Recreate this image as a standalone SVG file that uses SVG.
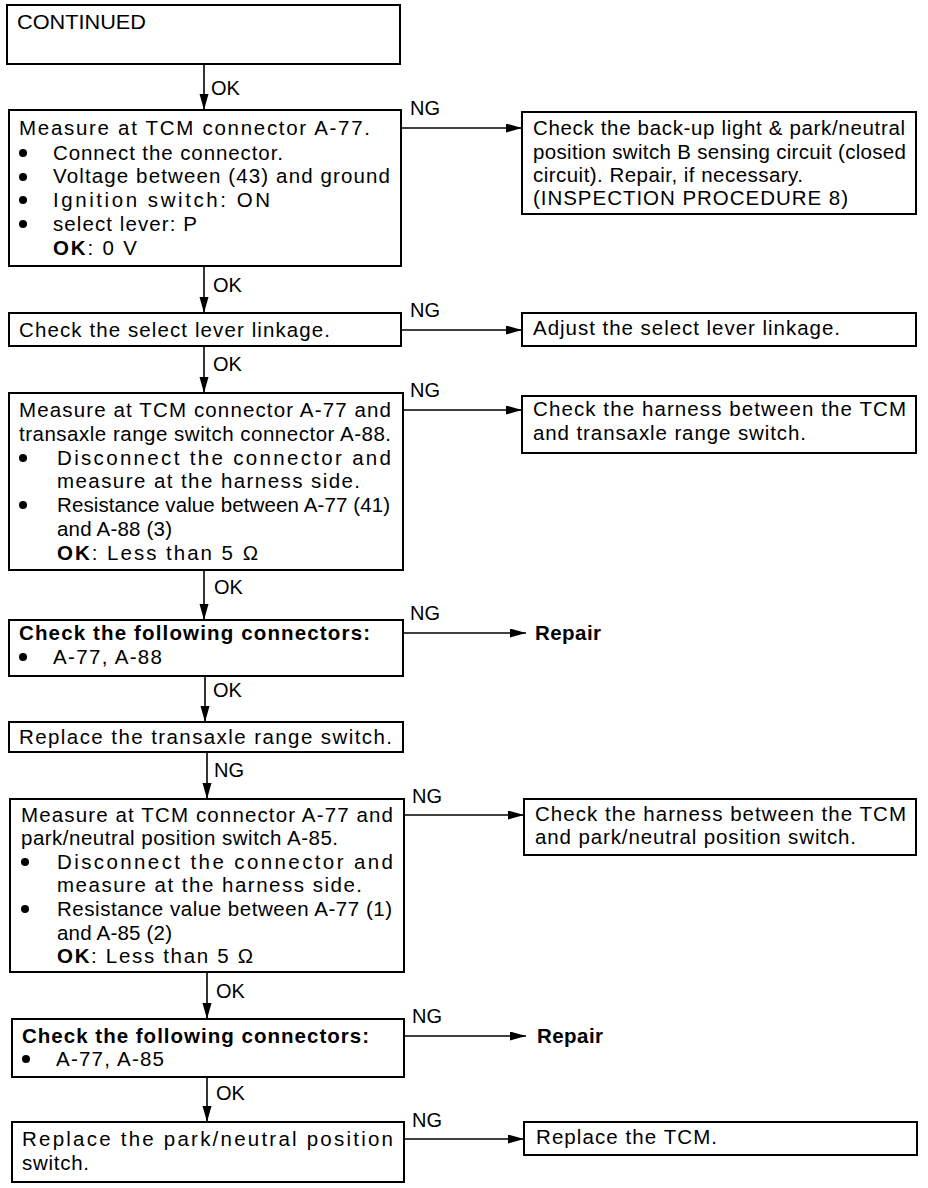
<svg xmlns="http://www.w3.org/2000/svg" width="928" height="1188" viewBox="0 0 928 1188">
<style>
  .box{fill:#fff;stroke:#000;stroke-width:2}
  text{font-family:"Liberation Sans",Arial,sans-serif;font-size:20.5px;fill:#000}
  .b{font-weight:bold}
  .lbl{font-size:20px}
  .con{stroke:#000;stroke-width:1.6;fill:none;marker-end:url(#ah)}
</style>
<defs>
  <marker id="ah" markerUnits="userSpaceOnUse" markerWidth="17" markerHeight="10" refX="16" refY="4.5" orient="auto">
    <path d="M0,0 L16,4.5 L0,9 z" fill="#000"/>
  </marker>
</defs>
<rect width="928" height="1188" fill="#fff"/>

<g id="connectors">
  <line class="con" x1="204" y1="65" x2="204" y2="110"/>
  <line class="con" x1="204" y1="266" x2="204" y2="313"/>
  <line class="con" x1="204" y1="346" x2="204" y2="393"/>
  <line class="con" x1="204" y1="570" x2="204" y2="620"/>
  <line class="con" x1="205" y1="676" x2="205" y2="722"/>
  <line class="con" x1="207" y1="752" x2="207" y2="799"/>
  <line class="con" x1="207" y1="972" x2="207" y2="1019"/>
  <line class="con" x1="207" y1="1077" x2="207" y2="1122"/>
  <line class="con" x1="401" y1="128" x2="522" y2="128"/>
  <line class="con" x1="401" y1="330" x2="522" y2="330"/>
  <line class="con" x1="403" y1="410" x2="522" y2="410"/>
  <line class="con" x1="403" y1="633" x2="526" y2="633"/>
  <line class="con" x1="404" y1="815" x2="524" y2="815"/>
  <line class="con" x1="404" y1="1036" x2="526" y2="1036"/>
  <line class="con" x1="404" y1="1139" x2="524" y2="1139"/>
  <text class="lbl" x="211" y="95">OK</text>
  <text class="lbl" x="213" y="292">OK</text>
  <text class="lbl" x="213" y="371">OK</text>
  <text class="lbl" x="214" y="594">OK</text>
  <text class="lbl" x="213" y="697">OK</text>
  <text class="lbl" x="214" y="777">NG</text>
  <text class="lbl" x="216" y="998">OK</text>
  <text class="lbl" x="216" y="1100">OK</text>
  <text class="lbl" x="410" y="115">NG</text>
  <text class="lbl" x="410" y="317">NG</text>
  <text class="lbl" x="410" y="397">NG</text>
  <text class="lbl" x="410" y="620">NG</text>
  <text class="lbl" x="412" y="803">NG</text>
  <text class="lbl" x="412" y="1023">NG</text>
  <text class="lbl" x="412" y="1127">NG</text>
</g>

<g id="n1">
  <rect class="box" x="7" y="5" width="393" height="59"/>
  <text x="17" y="29" textLength="129" lengthAdjust="spacingAndGlyphs">CONTINUED</text>
</g>

<g id="n2">
  <rect class="box" x="9" y="110" width="392" height="156"/>
  <text x="19" y="135" textLength="351">Measure at TCM connector A-77.</text>
  <circle cx="23" cy="153" r="4"/>
  <text x="53" y="160" textLength="230">Connect the connector.</text>
  <circle cx="23" cy="177" r="4"/>
  <text x="53" y="183" textLength="337">Voltage between (43) and ground</text>
  <circle cx="23" cy="200" r="4"/>
  <text x="53" y="207" textLength="217">Ignition switch: ON</text>
  <circle cx="23" cy="224" r="4"/>
  <text x="53" y="231" textLength="144">select lever: P</text>
  <text x="53" y="255" textLength="84"><tspan class="b">OK</tspan>: 0 V</text>
</g>

<g id="n3">
  <rect class="box" x="522" y="112" width="394" height="102"/>
  <text x="533" y="135" textLength="372">Check the back-up light &amp; park/neutral</text>
  <text x="533" y="159" textLength="373">position switch B sensing circuit (closed</text>
  <text x="533" y="182" textLength="270">circuit). Repair, if necessary.</text>
  <text x="533" y="205" textLength="315">(INSPECTION PROCEDURE 8)</text>
</g>

<g id="n4">
  <rect class="box" x="9" y="313" width="392" height="33"/>
  <text x="19" y="337" textLength="311">Check the select lever linkage.</text>
</g>

<g id="n5">
  <rect class="box" x="522" y="313" width="394" height="33"/>
  <text x="533" y="335" textLength="307">Adjust the select lever linkage.</text>
</g>

<g id="n6">
  <rect class="box" x="9" y="393" width="394" height="177"/>
  <text x="19" y="417" textLength="372">Measure at TCM connector A-77 and</text>
  <text x="19" y="441" textLength="372">transaxle range switch connector A-88.</text>
  <circle cx="23" cy="458" r="4"/>
  <text x="57" y="465" textLength="334" lengthAdjust="spacing">Disconnect the connector and</text>
  <text x="57" y="488" textLength="303">measure at the harness side.</text>
  <circle cx="23" cy="505" r="4"/>
  <text x="57" y="512" textLength="333">Resistance value between A-77 (41)</text>
  <text x="57" y="536" textLength="115">and A-88 (3)</text>
  <text x="57" y="560" textLength="201"><tspan class="b">OK</tspan>: Less than 5 Ω</text>
</g>

<g id="n7">
  <rect class="box" x="522" y="396" width="394" height="57"/>
  <text x="533" y="416" textLength="373">Check the harness between the TCM</text>
  <text x="533" y="440" textLength="273">and transaxle range switch.</text>
</g>

<g id="n8">
  <rect class="box" x="9" y="620" width="394" height="56"/>
  <text class="b" x="19" y="640" textLength="351">Check the following connectors:</text>
  <circle cx="23" cy="657" r="4"/>
  <text x="53" y="664" textLength="109">A-77, A-88</text>
</g>

<g id="n9">
  <text class="b" x="535" y="640" textLength="66">Repair</text>
</g>

<g id="n10">
  <rect class="box" x="9" y="722" width="394" height="30"/>
  <text x="19" y="744" textLength="373">Replace the transaxle range switch.</text>
</g>

<g id="n11">
  <rect class="box" x="10" y="799" width="394" height="173"/>
  <text x="21" y="822" textLength="372">Measure at TCM connector A-77 and</text>
  <text x="21" y="845" textLength="317">park/neutral position switch A-85.</text>
  <circle cx="25" cy="862" r="4"/>
  <text x="57" y="869" textLength="336" lengthAdjust="spacing">Disconnect the connector and</text>
  <text x="57" y="892" textLength="305">measure at the harness side.</text>
  <circle cx="25" cy="909" r="4"/>
  <text x="57" y="916" textLength="335">Resistance value between A-77 (1)</text>
  <text x="57" y="940" textLength="115">and A-85 (2)</text>
  <text x="57" y="963" textLength="196"><tspan class="b">OK</tspan>: Less than 5 Ω</text>
</g>

<g id="n12">
  <rect class="box" x="524" y="799" width="392" height="56"/>
  <text x="535" y="821" textLength="371">Check the harness between the TCM</text>
  <text x="535" y="844" textLength="321">and park/neutral position switch.</text>
</g>

<g id="n13">
  <rect class="box" x="12" y="1019" width="392" height="58"/>
  <text class="b" x="22" y="1043" textLength="347">Check the following connectors:</text>
  <circle cx="26" cy="1059" r="4"/>
  <text x="56" y="1066" textLength="108">A-77, A-85</text>
</g>

<g id="n14">
  <text class="b" x="537" y="1043" textLength="66">Repair</text>
</g>

<g id="n15">
  <rect class="box" x="12" y="1122" width="392" height="60"/>
  <text x="22" y="1146" textLength="371" lengthAdjust="spacing">Replace the park/neutral position</text>
  <text x="22" y="1170" textLength="67">switch.</text>
</g>

<g id="n16">
  <rect class="box" x="524" y="1122" width="393" height="33"/>
  <text x="536" y="1144" textLength="181">Replace the TCM.</text>
</g>
</svg>
